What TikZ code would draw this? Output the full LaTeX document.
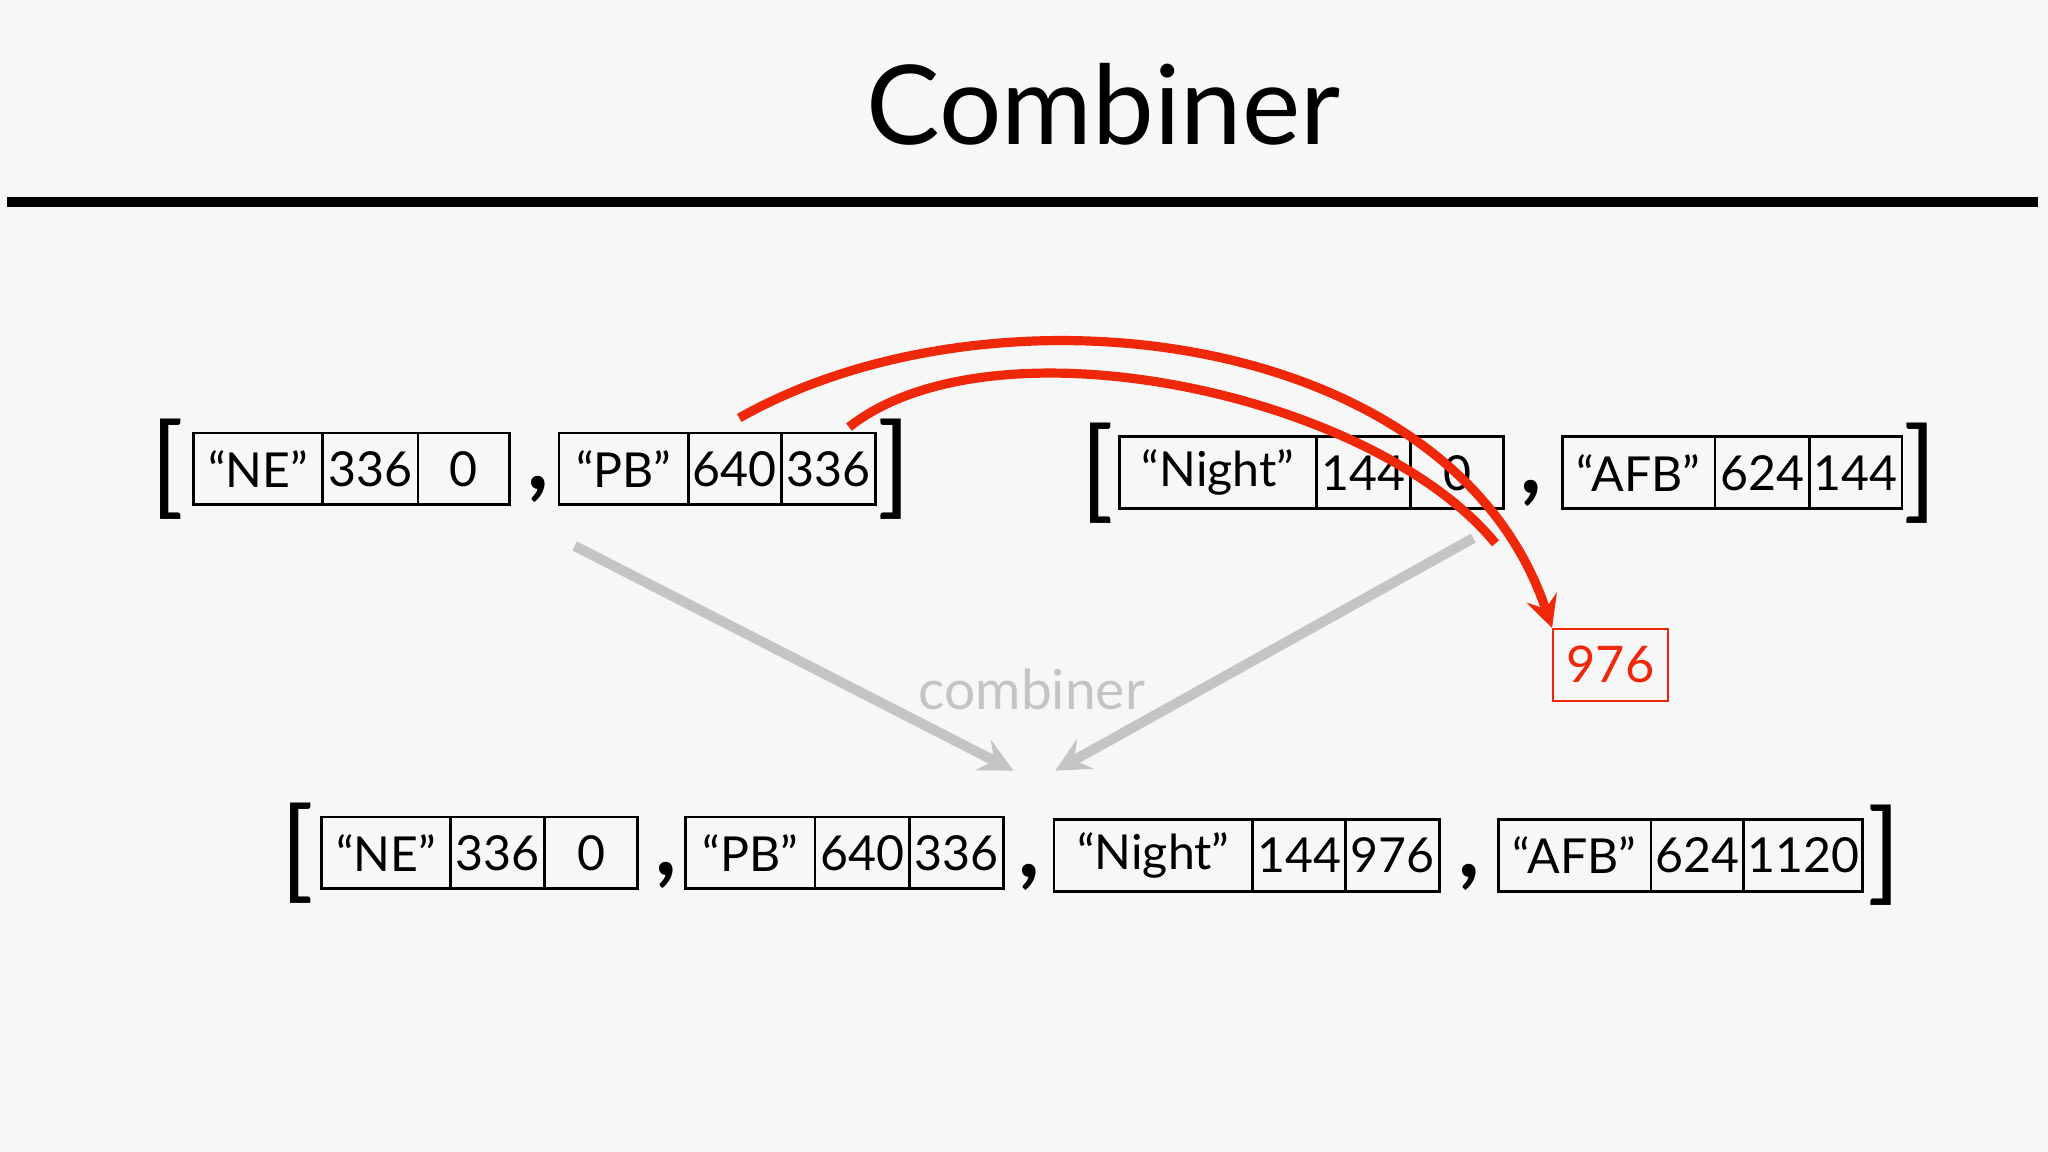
\documentclass[tikz,border=0pt]{standalone}
\usepackage{fontspec}
\setmainfont{Lato}
\usetikzlibrary{positioning}
\definecolor{redarr}{RGB}{240,40,10}
\definecolor{grayarr}{RGB}{196,196,196}
\tikzset{
  cell/.style={draw, line width=0.6pt, minimum height=0.55cm, inner sep=0pt, outer sep=0pt,
    font=\fontsize{10.5}{10.5}\selectfont, anchor=west},
  brk/.style={font=\fontsize{24}{24}\selectfont, inner sep=0pt},
  cma/.style={font=\fontsize{20}{20}\selectfont\bfseries, inner sep=0pt}
}
\begin{document}
\begin{tikzpicture}[x=0.01cm, y=-0.01cm, >=stealth]
\useasboundingbox (0,0) rectangle (1568,882);
\fill[white!97!black] (0,0) rectangle (1568,882);

\node (title) at (845,80) {\fontsize{24}{24}\selectfont Combiner};
\draw[line width=2.2pt] (5,155) -- (1560,155);

% first input list
\node[cell, minimum width=0.99cm] (ne1) at (148,359) {``NE''};
\node[cell, minimum width=0.73cm, right=0pt of ne1] (ne1a) {336};
\node[cell, minimum width=0.70cm, right=0pt of ne1a] (ne1b) {0};
\node[cell, minimum width=0.99cm] (pb1) at (428,359) {``PB''};
\node[cell, minimum width=0.71cm, right=0pt of pb1] (pb1a) {640};
\node[cell, minimum width=0.72cm, right=0pt of pb1a] (pb1b) {336};
\node[brk] (lb1) at (128,359) {[};
\node[brk] (rb1) at (685,359) {]};
\node[cma] (c1) at (412,375) {,};

% second input list
\node[cell, minimum width=1.51cm] (ni1) at (857,362) {``Night''};
\node[cell, minimum width=0.72cm, right=0pt of ni1] (ni1a) {144};
\node[cell, minimum width=0.71cm, right=0pt of ni1a] (ni1b) {0};
\node[cell, minimum width=1.17cm] (af1) at (1196,362) {``AFB''};
\node[cell, minimum width=0.72cm, right=0pt of af1] (af1a) {624};
\node[cell, minimum width=0.71cm, right=0pt of af1a] (af1b) {144};
\node[brk] (lb2) at (840,362) {[};
\node[brk] (rb2) at (1470,362) {]};
\node[cma] (c2) at (1172,378) {,};

% output list
\node[cell, minimum width=0.99cm] (ne2) at (246,653) {``NE''};
\node[cell, minimum width=0.72cm, right=0pt of ne2] (ne2a) {336};
\node[cell, minimum width=0.71cm, right=0pt of ne2a] (ne2b) {0};
\node[cell, minimum width=0.99cm] (pb2) at (525,653) {``PB''};
\node[cell, minimum width=0.72cm, right=0pt of pb2] (pb2a) {640};
\node[cell, minimum width=0.72cm, right=0pt of pb2a] (pb2b) {336};
\node[cell, minimum width=1.52cm] (ni2) at (807,655) {``Night''};
\node[cell, minimum width=0.71cm, right=0pt of ni2] (ni2a) {144};
\node[cell, minimum width=0.72cm, right=0pt of ni2a] (ni2b) {976};
\node[cell, minimum width=1.17cm] (af2) at (1147,655) {``AFB''};
\node[cell, minimum width=0.71cm, right=0pt of af2] (af2a) {624};
\node[cell, minimum width=0.91cm, right=0pt of af2a] (af2b) {1120};
\node[brk] (lb3) at (228,653) {[};
\node[brk] (rb3) at (1443,655) {]};
\node[cma] (c3) at (510,670) {,};
\node[cma] (c4) at (788,672) {,};
\node[cma] (c5) at (1125,672) {,};

% combiner arrows
\coordinate (g1) at (440,418);
\coordinate (g2) at (1128,412);
\coordinate (t1) at (776,590);
\coordinate (t2) at (808,590);
\draw[grayarr, line width=2.2pt, ->] (g1) -- (t1);
\draw[grayarr, line width=2.2pt, ->] (g2) -- (t2);
\node[text=grayarr, font=\fontsize{12}{12}\selectfont] (lbl) at (790,528) {combiner};

% sum
\node[draw=redarr, text=redarr, minimum width=0.88cm, minimum height=0.55cm, inner sep=0pt,
  font=\fontsize{11}{11}\selectfont] (sum) at (1233,509) {976};
\coordinate (s1) at (566,320);
\coordinate (s2) at (650,327);
\coordinate (e2) at (1145,416);
\draw[redarr, line width=2pt, ->] (s1) .. controls (760,210) and (1110,250) .. (sum.north west);
\draw[redarr, line width=2pt] (s2) .. controls (760,240) and (1050,300) .. (e2);
\end{tikzpicture}
\end{document}
